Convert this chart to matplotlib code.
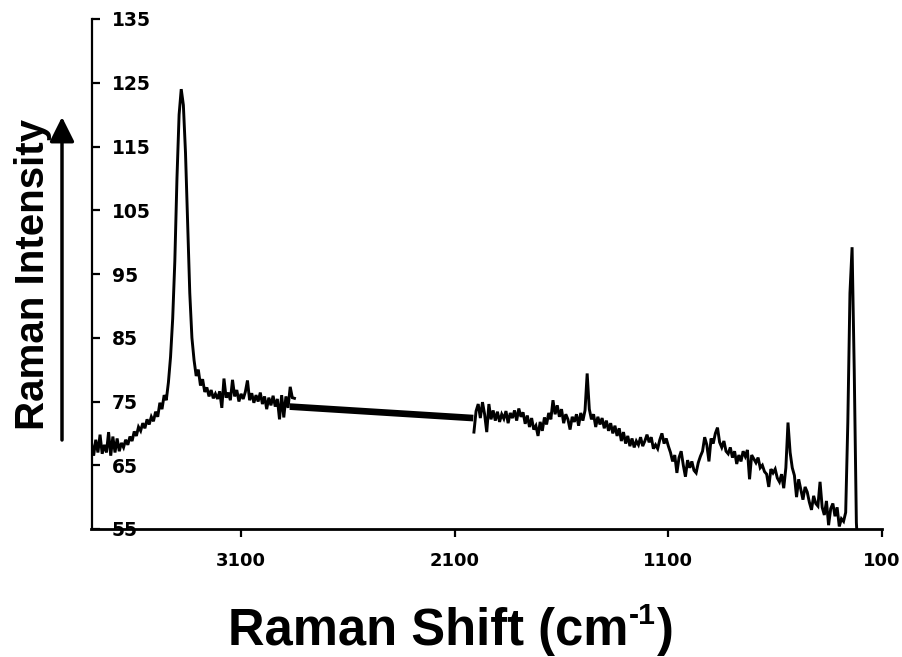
import numpy as np
import matplotlib
matplotlib.use("Agg")
import matplotlib.pyplot as plt
from matplotlib.patches import FancyArrowPatch

# ---- data ----
# segment 1 (high wavenumber region), 10 cm-1 grid from 3800 down to 2850
seg1_x = np.arange(3800, 2849, -10)
seg1_y = [68.5, 66.5, 69.0, 67.0, 69.8, 66.8, 68.2, 67.0, 70.2, 66.5,
          69.5, 67.0, 69.2, 67.2, 68.5, 67.8, 69.0, 68.2, 69.5, 68.8,
          70.3, 69.6, 71.0, 70.4, 71.6, 70.8, 72.2, 71.4, 72.6, 71.9,
          73.4, 72.6, 74.8, 73.8, 76.0, 75.2, 78.0, 82.0, 88.0, 97.0,
          110.0, 120.0, 124.0, 121.5, 114.0, 103.0, 92.0, 85.0, 81.5, 79.0,
          80.0, 77.5, 78.5, 76.5, 77.2, 75.8, 76.8, 75.5, 76.2, 75.4,
          76.6, 74.0, 78.6, 75.6, 76.4, 75.2, 78.4, 75.8, 76.8, 75.0,
          76.2, 75.4, 76.5, 78.3, 75.2, 76.3, 74.8, 76.0, 75.0, 76.4,
          74.6, 75.8, 73.8, 75.6, 74.4, 75.9, 74.2, 75.4, 72.2, 76.0,
          72.5, 75.8, 74.0, 77.3, 75.6, 75.5][:len(seg1_x)]

# connector across the gap (thick line)
gap_x = [2872, 2013]
gap_y = [74.2, 72.4]

# segment 2 (low wavenumber region), 10 cm-1 grid from 2010 down to 210
seg2_x = np.arange(2010, 209, -10)
seg2_y = [70.2, 73.5, 74.6, 72.4, 74.9, 73.0, 70.2, 74.6, 72.2, 73.6,
          72.0, 73.4, 71.8, 73.0, 72.3, 73.5, 71.6, 73.2, 72.4, 73.6,
          72.0, 73.9, 72.6, 73.3, 71.5, 72.8, 71.0, 72.4, 70.6, 71.2,
          69.6, 71.8, 70.4, 72.5, 71.4, 73.2, 72.2, 75.2, 73.0, 74.4,
          72.6, 73.8, 71.6, 73.0, 72.2, 70.6, 72.6, 71.8, 73.0, 71.2,
          73.2, 72.0, 73.6, 79.4, 73.8, 72.2, 73.0, 71.0, 72.6, 71.4,
          72.4, 70.8, 72.0, 70.4, 71.6, 70.0, 71.2, 69.6, 70.8, 68.8,
          70.2, 68.4, 69.6, 68.0, 69.2, 67.8, 68.8, 68.2, 69.4, 68.0,
          68.8, 69.8, 68.6, 69.4, 67.6, 68.2, 67.6, 69.0, 70.0, 68.4,
          69.2, 68.0, 67.0, 65.6, 66.6, 63.8, 66.2, 67.2, 65.0, 63.2,
          65.8, 64.6, 65.6, 64.2, 63.8, 65.4, 66.4, 67.2, 69.4, 68.2,
          65.6, 69.2, 68.4, 70.0, 70.9, 68.6, 67.8, 68.8, 67.2, 66.8,
          67.8, 66.2, 67.2, 65.2, 66.6, 65.6, 67.2, 66.4, 67.4, 62.8,
          66.6, 66.0, 65.4, 66.2, 64.6, 65.0, 64.0, 63.6, 61.6, 64.4,
          63.8, 64.4, 63.0, 62.4, 63.6, 61.4, 64.6, 71.7, 67.0, 64.6,
          63.4, 60.0, 62.8, 61.2, 59.6, 61.6, 60.8, 59.2, 58.0, 60.2,
          59.0, 58.6, 62.4, 58.4, 57.2, 59.4, 55.6, 58.2, 59.0, 57.0,
          58.4, 55.4, 56.6, 56.2, 57.6, 71.7, 92.0, 99.2, 80.0, 56.0,
          50.0]

x_ticks = [3100, 2100, 1100, 100]
y_ticks = [55, 65, 75, 85, 95, 105, 115, 125, 135]
x_label_main = "Raman Shift (cm"
x_label_sup = "-1"
x_label_end = ")"
y_label = "Raman Intensity"

# ---- figure ----
W, H = 902, 657
fig = plt.figure(figsize=(W / 100, H / 100), dpi=100)
ax = fig.add_axes([91.5 / W, (H - 529) / H, (882 - 91.5) / W, (529 - 19) / H])

ax.plot(seg1_x, seg1_y, color='black', lw=2.1, solid_joinstyle='miter')
ax.plot(gap_x, gap_y, color='black', lw=4.8, solid_capstyle='butt')
ax.plot(seg2_x, seg2_y, color='black', lw=2.1, solid_joinstyle='miter')

ax.set_xlim(3800, 100)
ax.set_ylim(55, 135)
ax.set_xticks(x_ticks)
ax.set_xticklabels([str(t) for t in x_ticks])
ax.set_yticks(y_ticks)
ax.set_yticklabels([str(t) for t in y_ticks])

for s in ['top', 'right']:
    ax.spines[s].set_visible(False)
ax.spines['left'].set_linewidth(1.6)
ax.spines['bottom'].set_linewidth(2.0)

ax.tick_params(axis='x', direction='out', length=5.5, width=1.6, pad=11,
               labelsize=13)
ax.tick_params(axis='y', direction='in', length=5.5, width=1.6, pad=-14.5,
               labelsize=13.5)
for lbl in ax.get_xticklabels() + ax.get_yticklabels():
    lbl.set_fontweight('bold')
    lbl.set_fontfamily('DejaVu Sans')
for lbl in ax.get_yticklabels():
    lbl.set_horizontalalignment('left')

# x axis title built from pieces so the superscript uses a short hyphen
fs = 36.5
base_y = 1 - 645 / H
t1 = fig.text(213 / W, base_y, x_label_main, ha='left', va='baseline',
              fontsize=fs, fontweight='bold', family='Liberation Sans')
fig.canvas.draw()
r = fig.canvas.get_renderer()
bb = t1.get_window_extent(r)
t2 = fig.text(bb.x1 / W + 1 / W, base_y + 0.42 * fs * 1.389 / H, x_label_sup,
              ha='left', va='baseline', fontsize=fs * 0.6, fontweight='bold',
              family='Liberation Sans')
bb2 = t2.get_window_extent(r)
t3 = fig.text(bb2.x1 / W + 1 / W, base_y, x_label_end, ha='left',
              va='baseline', fontsize=fs, fontweight='bold',
              family='Liberation Sans')
# re-center whole title on 451 px
bb3 = t3.get_window_extent(r)
total = bb3.x1 - bb.x0
shift = (451 - total / 2) - bb.x0
for t in (t1, t2, t3):
    x, y = t.get_position()
    t.set_position((x + shift / W, y))

fig.text(33 / W, 1 - 274 / H, y_label, ha='center', va='center',
         rotation=90, fontsize=29, fontweight='bold', family='Liberation Sans')

fig.add_artist(FancyArrowPatch(
    (62 / W, 1 - 440 / H), (62 / W, 1 - 117 / H),
    transform=fig.transFigure, arrowstyle='-|>,head_length=10,head_width=5',
    mutation_scale=1.5, lw=2.5, color='black', shrinkA=0, shrinkB=0))

fig.savefig('out.png', dpi=100)
